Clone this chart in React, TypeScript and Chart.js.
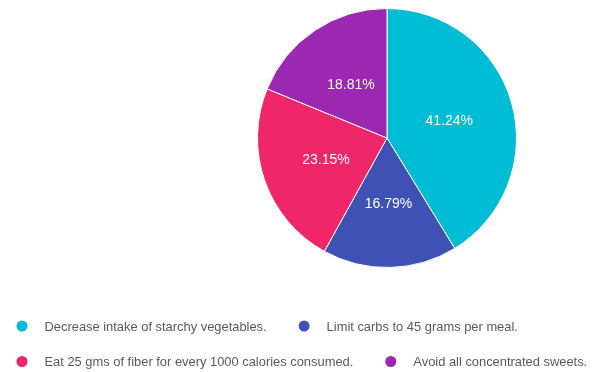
import React, { useEffect, useRef } from "react";
import { Chart, registerables } from "chart.js";

Chart.register(...registerables);

const categories = [
  "Decrease intake of starchy vegetables.",
  "Limit carbs to 45 grams per meal.",
  "Eat 25 gms of fiber for every 1000 calories consumed.",
  "Avoid all concentrated sweets.",
];
const values = [41.24, 16.79, 23.15, 18.81];
const colors = ["#00BCD4", "#3F51B5", "#F0266A", "#9C27B0"];

const FONT = "'Liberation Sans', Arial, sans-serif";

const sliceLabels = {
  id: "sliceLabels",
  afterDatasetsDraw(chart: any) {
    const ctx = chart.ctx;
    const meta = chart.getDatasetMeta(0);
    const data = chart.data.datasets[0].data as number[];
    ctx.save();
    ctx.font = `14px ${FONT}`;
    ctx.fillStyle = "#ffffff";
    ctx.textAlign = "center";
    ctx.textBaseline = "middle";
    meta.data.forEach((arc: any, i: number) => {
      const p = arc.tooltipPosition();
      ctx.fillText(`${data[i].toFixed(2)}%`, p.x, p.y + 1);
    });
    ctx.restore();
  },
};

const flowLegend = {
  id: "flowLegend",
  afterDraw(chart: any) {
    const ctx = chart.ctx;
    const labels = chart.data.labels as string[];
    const bg = chart.data.datasets[0].backgroundColor as string[];
    const width = chart.width;
    const startX = 14;
    const rowTop = 318;
    const rowGap = 35.5;
    const radius = 5.5;
    const textOffset = 22.5;
    const itemGap = 37.5;
    ctx.save();
    ctx.font = `12.9px ${FONT}`;
    ctx.textBaseline = "middle";
    ctx.textAlign = "left";
    let x = startX;
    let y = rowTop;
    labels.forEach((label, i) => {
      const tw = ctx.measureText(label).width;
      if (x !== startX && x + textOffset + tw > width - 2) {
        x = startX;
        y += rowGap;
      }
      ctx.beginPath();
      ctx.fillStyle = bg[i];
      ctx.arc(x, y, radius, 0, Math.PI * 2);
      ctx.fill();
      ctx.fillStyle = "#5a5a5a";
      ctx.fillText(label, x + textOffset, y + 1);
      x = x + textOffset + tw + itemGap;
    });
    ctx.restore();
  },
};

export default function App() {
  const ref = useRef<HTMLCanvasElement | null>(null);
  useEffect(() => {
    if (!ref.current) return;
    const chart = new Chart(ref.current, {
      type: "pie",
      data: {
        labels: categories,
        datasets: [
          {
            data: values,
            backgroundColor: colors,
            borderColor: "#ffffff",
            borderWidth: 1,
          },
        ],
      },
      options: {
        animation: false,
        responsive: true,
        maintainAspectRatio: false,
        layout: { padding: { left: 171, top: 0, right: 0, bottom: 104 } },
        plugins: {
          legend: { display: false },
          tooltip: { enabled: false },
        },
      },
      plugins: [sliceLabels, flowLegend],
    });
    return () => chart.destroy();
  }, []);
  return (
    <div style={{ width: 587, height: 364, position: "relative" }}>
      <canvas ref={ref} />
    </div>
  );
}
